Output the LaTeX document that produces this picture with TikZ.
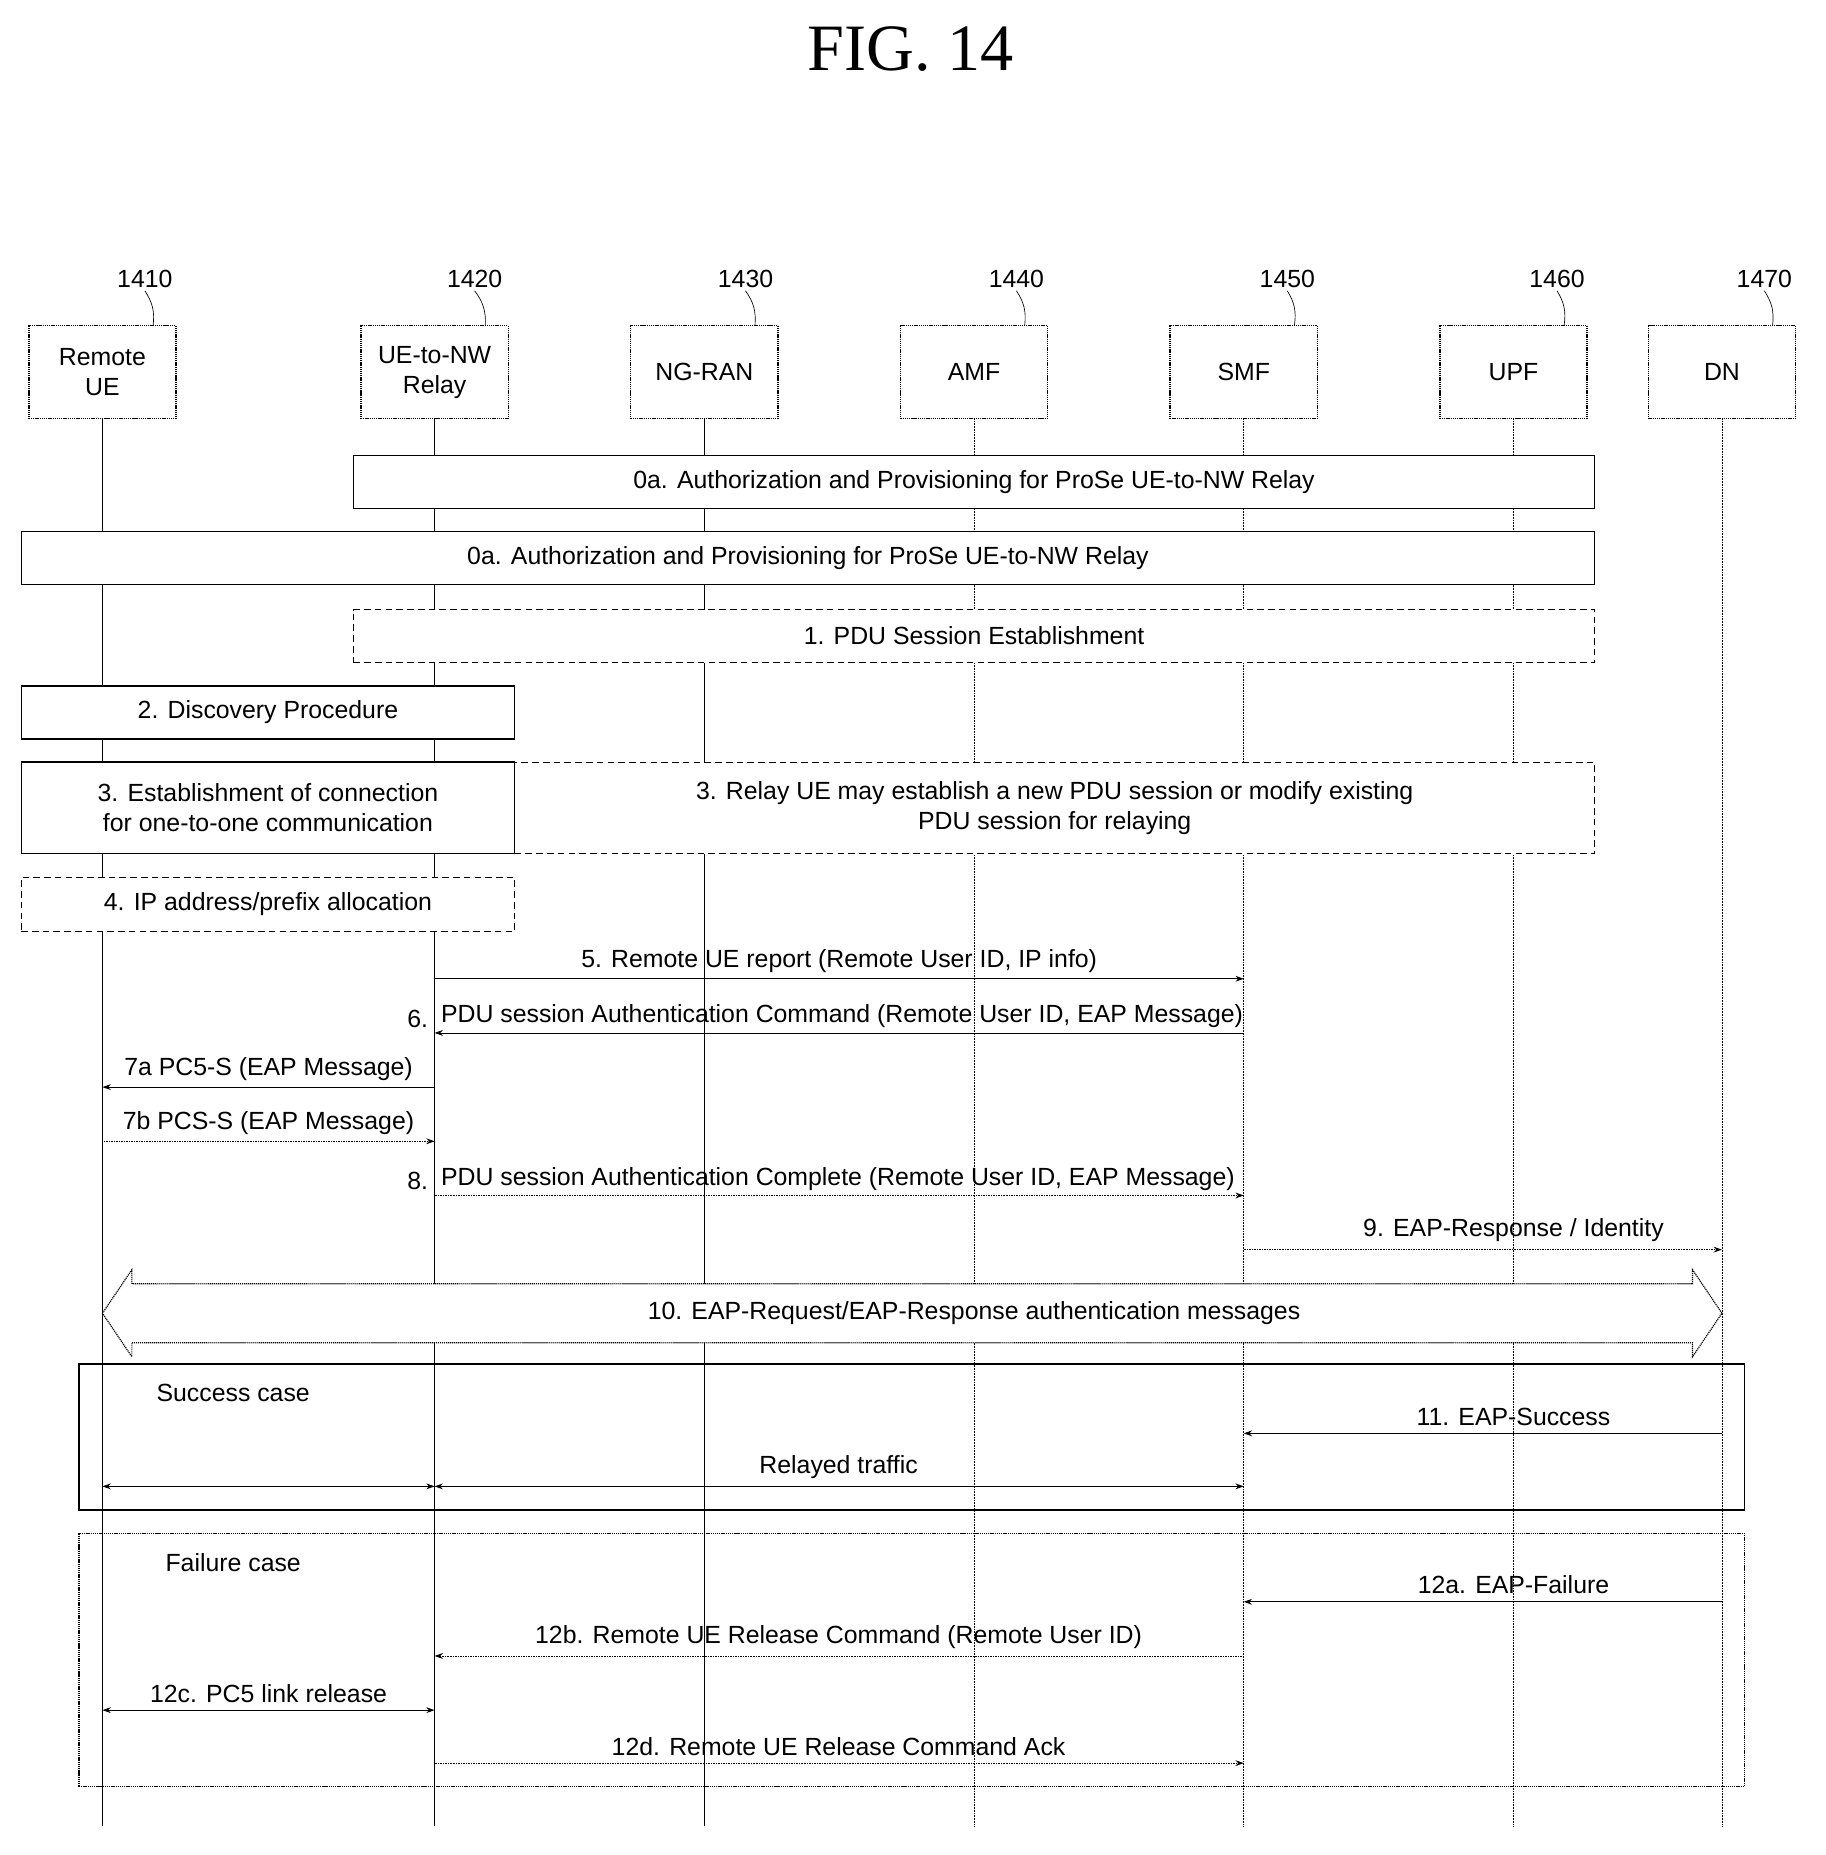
\documentclass[tikz,border=0pt]{standalone}
\usepackage{fontspec}
\setmainfont{Liberation Sans}
\newfontfamily\titlefont{Liberation Serif}
\usetikzlibrary{arrows.meta}
\begin{document}
\begin{tikzpicture}[x=0.05cm,y=-0.05cm,
  every node/.style={font=\fontsize{30}{36}\selectfont},
  ent/.style={draw,densely dotted,line width=1.6pt,minimum width=6.25cm,minimum height=3.95cm,align=center,inner sep=0pt},
  life/.style={line width=0.9pt},
  lifed/.style={line width=0.9pt,densely dotted},
  bar/.style={draw,fill=white,line width=1.4pt,inner sep=0pt},
  dbar/.style={draw,fill=white,dash pattern=on 8pt off 5pt,line width=1pt,inner sep=0pt},
  msg/.style={-{Stealth[length=10pt,width=7pt]},line width=1pt},
  msgd/.style={msg,densely dotted},
  bmsg/.style={{Stealth[length=10pt,width=7pt]}-{Stealth[length=10pt,width=7pt]},line width=1pt},
  lbl/.style={inner sep=1pt,fill=white}]
\useasboundingbox (0,0) rectangle (1550,1575);
\node[font=\titlefont\fontsize{80}{90}\selectfont] (title) at (773,42) {FIG. 14};
% entities
\foreach \n/\x/\t/\r/\lx in {ue/87/{Remote\\UE}/1410/123, relay/369/{UE-to-NW\\Relay}/1420/403, ran/598/NG-RAN/1430/633, amf/827/AMF/1440/863, smf/1056/SMF/1450/1093, upf/1285/UPF/1460/1322, dn/1462/DN/1470/1498}{
  \node[ent] (\n) at (\x,316) {\t};
  \node (r\n) at (\lx,237) {\r};
  \draw[line width=0.8pt] (r\n.south) to[bend left=20] ([xshift=-1cm]\n.north east);
  \coordinate (\n-end) at (\x,1550);
}
\foreach \n in {ue,relay,ran}{\draw[life] (\n) -- (\n-end);}
\foreach \n in {amf,smf,upf,dn}{\draw[lifed] (\n) -- (\n-end);}
% bars
\node[bar,minimum width=52.7cm,minimum height=2.25cm] (b0a1) at (827,409) {0a. Authorization and Provisioning for ProSe UE-to-NW Relay};
\node[bar,minimum width=66.8cm,minimum height=2.25cm] (b0a2) at (686,474) {0a. Authorization and Provisioning for ProSe UE-to-NW Relay};
\node[dbar,minimum width=52.7cm,minimum height=2.25cm] (b1) at (827,540) {1. PDU Session Establishment};
\node[bar,minimum width=20.95cm,minimum height=2.25cm] (b2) at (227.5,605) {2. Discovery Procedure};
\node[bar,minimum width=20.95cm,minimum height=3.9cm,align=center] (b3a) at (227.5,686) {3. Establishment of connection\\for one-to-one communication};
\node[dbar,minimum width=45.85cm,minimum height=3.9cm,align=center] (b3b) at (895.5,686) {3. Relay UE may establish a new PDU session or modify existing\\PDU session for relaying};
\node[dbar,minimum width=20.95cm,minimum height=2.3cm] (b4) at (227.5,768) {4. IP address/prefix allocation};
% messages
\coordinate (m5a) at (369,831); \coordinate (m5b) at (1056,831);
\draw[msg] (m5a) -- (m5b) node[midway,above=4pt] (l5) {5. Remote UE report (Remote User ID, IP info)};
\coordinate (m6a) at (1056,877); \coordinate (m6b) at (369,877);
\draw[msg] (m6a) -- (m6b);
\node[anchor=south west] (l6) at (372,875) {PDU session Authentication Command (Remote User ID, EAP Message)};
\node[anchor=south east] (l6n) at (366,875) {6.};
\coordinate (m7a) at (369,923); \coordinate (m7b) at (87,923);
\draw[msg] (m7a) -- (m7b) node[midway,above=4pt] (l7a) {7a PC5-S (EAP Message)};
\coordinate (m7c) at (87,969); \coordinate (m7d) at (369,969);
\draw[msgd] (m7c) -- (m7d) node[midway,above=4pt] (l7b) {7b PCS-S (EAP Message)};
\coordinate (m8a) at (369,1015); \coordinate (m8b) at (1056,1015);
\draw[msgd] (m8a) -- (m8b);
\node[anchor=south west] (l8) at (372,1013) {PDU session Authentication Complete (Remote User ID, EAP Message)};
\node[anchor=south east] (l8n) at (366,1013) {8.};
\coordinate (m9a) at (1056,1061); \coordinate (m9b) at (1462,1061);
\draw[msgd] (m9a) -- (m9b);
\node[anchor=south] (l9) at (1285,1057) {9. EAP-Response / Identity};
% big double arrow
\draw[line width=1.4pt,densely dotted,fill=white] (87,1115) -- (112,1078) -- (112,1090) -- (1437,1090) -- (1437,1078) -- (1462,1115) -- (1437,1152) -- (1437,1140) -- (112,1140) -- (112,1152) -- cycle;
\node (l10) at (827,1115) {10. EAP-Request/EAP-Response authentication messages};
% success
\node[draw,line width=1.6pt,minimum width=70.7cm,minimum height=6.2cm,inner sep=0pt] (succ) at (774,1220) {};
\node (ls) at (198,1183) {Success case};
\coordinate (m11a) at (1462,1217); \coordinate (m11b) at (1056,1217);
\draw[msg] (m11a) -- (m11b);
\node[anchor=south] (l11) at (1285,1213) {11. EAP-Success};
\coordinate (rt1) at (87,1262); \coordinate (rt2) at (369,1262); \coordinate (rt3) at (1056,1262);
\draw[bmsg] (rt1) -- (rt2);
\draw[bmsg] (rt2) -- (rt3);
\node[anchor=south] (lrt) at (712,1258) {Relayed traffic};
% failure
\node[draw,line width=1.6pt,densely dotted,minimum width=70.7cm,minimum height=10.75cm,inner sep=0pt] (fail) at (774,1409.5) {};
\node (lf) at (198,1327) {Failure case};
\coordinate (m12aa) at (1462,1360); \coordinate (m12ab) at (1056,1360);
\draw[msg] (m12aa) -- (m12ab);
\node[anchor=south] (l12a) at (1285,1356) {12a. EAP-Failure};
\coordinate (m12ba) at (1056,1406); \coordinate (m12bb) at (369,1406);
\draw[msgd] (m12ba) -- (m12bb);
\node[anchor=south] (l12b) at (712,1402) {12b. Remote UE Release Command (Remote User ID)};
\coordinate (m12ca) at (87,1452); \coordinate (m12cb) at (369,1452);
\draw[bmsg] (m12ca) -- (m12cb);
\node[anchor=south] (l12c) at (228,1448) {12c. PC5 link release};
\coordinate (m12da) at (369,1497); \coordinate (m12db) at (1056,1497);
\draw[msgd] (m12da) -- (m12db);
\node[anchor=south] (l12d) at (712,1493) {12d. Remote UE Release Command Ack};
\end{tikzpicture}
\end{document}
